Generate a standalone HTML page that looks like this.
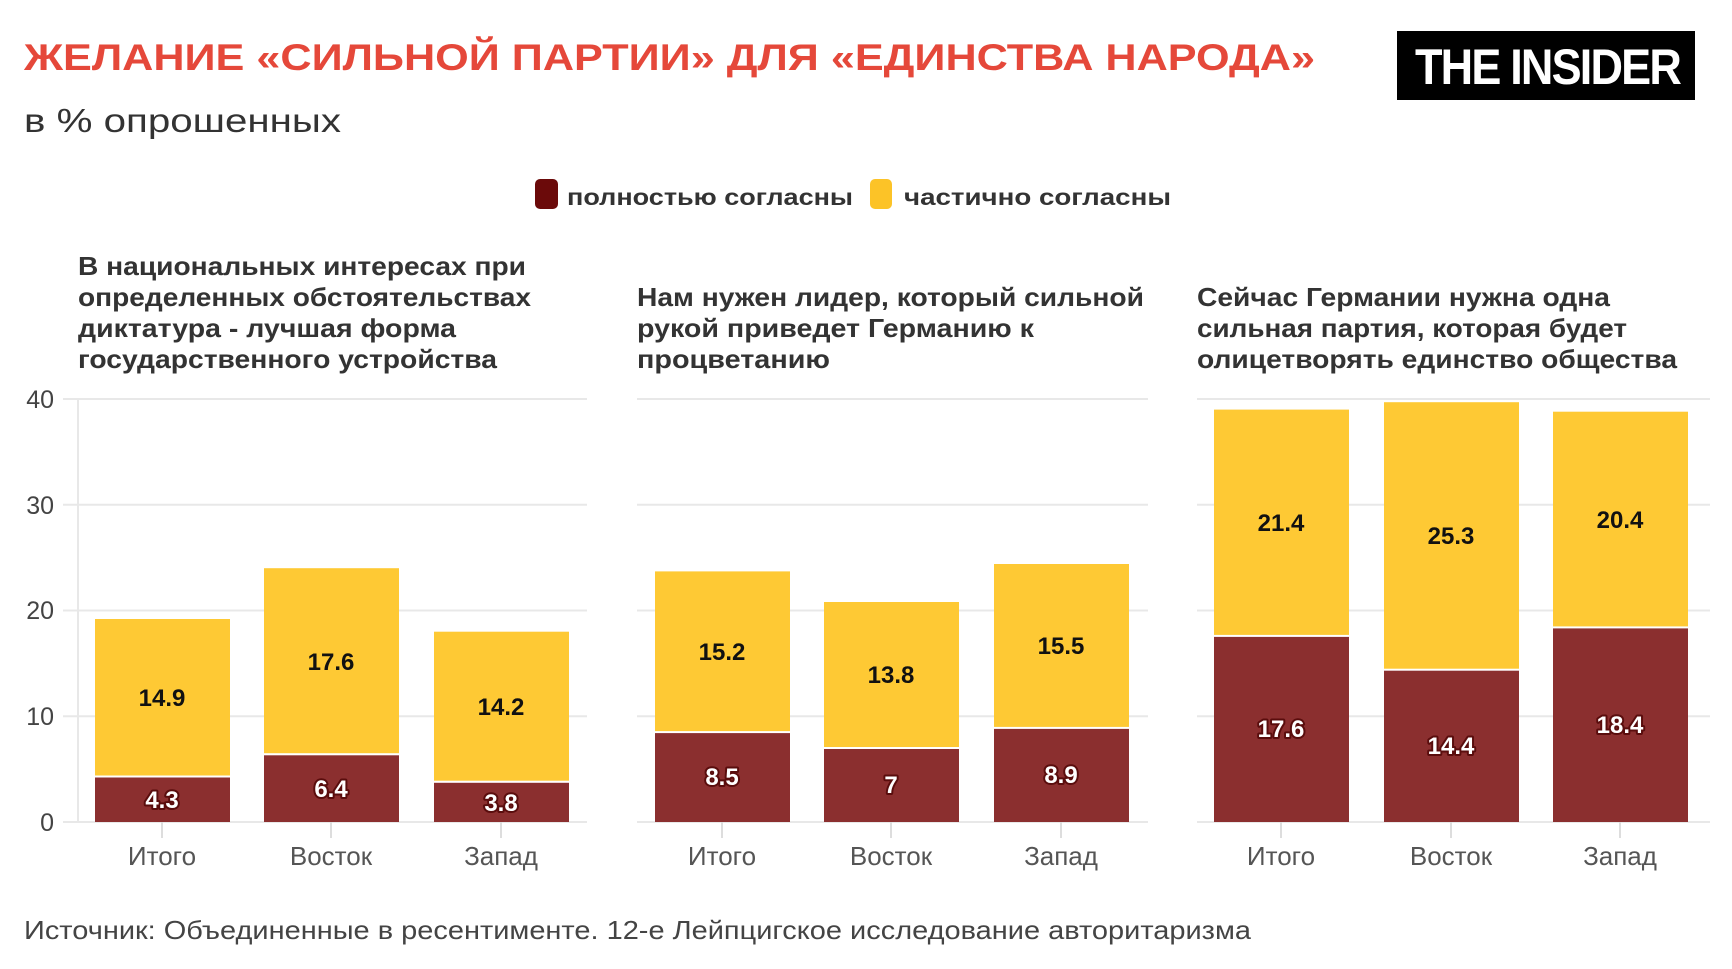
<!DOCTYPE html>
<html><head><meta charset="utf-8"><style>
html,body{margin:0;padding:0;background:#fff;}
svg{display:block;font-family:"Liberation Sans","DejaVu Sans",sans-serif;}
.pt{font-size:26px;font-weight:bold;fill:#333;}
.yl{font-size:25px;fill:#444;text-anchor:end;}
.xl{font-size:26px;fill:#555;text-anchor:middle;}
.vy{font-size:24px;font-weight:bold;fill:#111;text-anchor:middle;stroke:#fec934;stroke-width:5px;paint-order:stroke;stroke-linejoin:round;}
.vr{font-size:24px;font-weight:bold;fill:#fff;text-anchor:middle;stroke:#5a0d0d;stroke-width:4px;paint-order:stroke;stroke-linejoin:round;}
.g{stroke:#e8e8e8;stroke-width:2;}
.t{stroke:#ddd;stroke-width:2;}
</style></head><body>
<svg width="1732" height="969" viewBox="0 0 1732 969">
<text x="24" y="70" font-size="37" font-weight="bold" fill="#e5483a" textLength="1291" lengthAdjust="spacingAndGlyphs">ЖЕЛАНИЕ «СИЛЬНОЙ ПАРТИИ» ДЛЯ «ЕДИНСТВА НАРОДА»</text>
<text x="24" y="132" font-size="33" fill="#333" textLength="317" lengthAdjust="spacingAndGlyphs">в % опрошенных</text>
<rect x="1397" y="31" width="298" height="69" fill="#000"/>
<text x="1415" y="84" font-size="50" font-weight="bold" fill="#fff" textLength="265" lengthAdjust="spacingAndGlyphs" letter-spacing="-2">THE INSIDER</text>

<rect x="535" y="179" width="23" height="30" rx="5" fill="#6b0a0a"/>
<text x="567" y="205" font-size="23" font-weight="bold" fill="#333" textLength="286" lengthAdjust="spacingAndGlyphs">полностью согласны</text>
<rect x="870" y="179" width="22" height="30" rx="5" fill="#fcc327"/>
<text x="904" y="205" font-size="23" font-weight="bold" fill="#333" textLength="267" lengthAdjust="spacingAndGlyphs">частично согласны</text>

<text class="pt" x="78" y="275" textLength="448" lengthAdjust="spacingAndGlyphs">В национальных интересах при</text>
<text class="pt" x="78" y="306" textLength="453" lengthAdjust="spacingAndGlyphs">определенных обстоятельствах</text>
<text class="pt" x="78" y="337" textLength="378" lengthAdjust="spacingAndGlyphs">диктатура - лучшая форма</text>
<text class="pt" x="78" y="368" textLength="419" lengthAdjust="spacingAndGlyphs">государственного устройства</text>

<text class="pt" x="637" y="306" textLength="507" lengthAdjust="spacingAndGlyphs">Нам нужен лидер, который сильной</text>
<text class="pt" x="637" y="337" textLength="397" lengthAdjust="spacingAndGlyphs">рукой приведет Германию к</text>
<text class="pt" x="637" y="368" textLength="193" lengthAdjust="spacingAndGlyphs">процветанию</text>

<text class="pt" x="1197" y="306" textLength="413" lengthAdjust="spacingAndGlyphs">Сейчас Германии нужна одна</text>
<text class="pt" x="1197" y="337" textLength="430" lengthAdjust="spacingAndGlyphs">сильная партия, которая будет</text>
<text class="pt" x="1197" y="368" textLength="480" lengthAdjust="spacingAndGlyphs">олицетворять единство общества</text>

<g class="g">
<line x1="63" x2="587" y1="399" y2="399"/><line x1="63" x2="587" y1="504.75" y2="504.75"/><line x1="63" x2="587" y1="610.5" y2="610.5"/><line x1="63" x2="587" y1="716.25" y2="716.25"/><line x1="63" x2="587" y1="822" y2="822"/>
<line x1="637" x2="1148" y1="399" y2="399"/><line x1="637" x2="1148" y1="504.75" y2="504.75"/><line x1="637" x2="1148" y1="610.5" y2="610.5"/><line x1="637" x2="1148" y1="716.25" y2="716.25"/><line x1="637" x2="1148" y1="822" y2="822"/>
<line x1="1197" x2="1710" y1="399" y2="399"/><line x1="1197" x2="1710" y1="504.75" y2="504.75"/><line x1="1197" x2="1710" y1="610.5" y2="610.5"/><line x1="1197" x2="1710" y1="716.25" y2="716.25"/><line x1="1197" x2="1710" y1="822" y2="822"/>
<line x1="78" x2="78" y1="399" y2="822"/>
</g>
<text class="yl" x="54" y="408">40</text>
<text class="yl" x="54" y="514">30</text>
<text class="yl" x="54" y="619">20</text>
<text class="yl" x="54" y="725">10</text>
<text class="yl" x="54" y="831">0</text>

<g class="t">
<line x1="162" x2="162" y1="822" y2="838"/><line x1="331" x2="331" y1="822" y2="838"/><line x1="501" x2="501" y1="822" y2="838"/>
<line x1="722" x2="722" y1="822" y2="838"/><line x1="891" x2="891" y1="822" y2="838"/><line x1="1061" x2="1061" y1="822" y2="838"/>
<line x1="1281" x2="1281" y1="822" y2="838"/><line x1="1451" x2="1451" y1="822" y2="838"/><line x1="1620" x2="1620" y1="822" y2="838"/>
</g>

<rect x="95" y="619" width="135" height="156.5" fill="#fec934"/><rect x="95" y="777.5" width="135" height="44.5" fill="#8b2f2f"/>
<rect x="264" y="568.2" width="135" height="185" fill="#fec934"/><rect x="264" y="755.3" width="135" height="66.7" fill="#8b2f2f"/>
<rect x="434" y="631.7" width="135" height="149" fill="#fec934"/><rect x="434" y="782.8" width="135" height="39.2" fill="#8b2f2f"/>
<rect x="655" y="571.4" width="135" height="159.7" fill="#fec934"/><rect x="655" y="733.1" width="135" height="88.9" fill="#8b2f2f"/>
<rect x="824" y="602" width="135" height="145" fill="#fec934"/><rect x="824" y="749" width="135" height="73" fill="#8b2f2f"/>
<rect x="994" y="564" width="135" height="162.9" fill="#fec934"/><rect x="994" y="728.9" width="135" height="93.1" fill="#8b2f2f"/>
<rect x="1214" y="409.6" width="135" height="225.3" fill="#fec934"/><rect x="1214" y="636.9" width="135" height="185.1" fill="#8b2f2f"/>
<rect x="1384" y="402.2" width="135" height="266.5" fill="#fec934"/><rect x="1384" y="670.7" width="135" height="151.3" fill="#8b2f2f"/>
<rect x="1553" y="411.7" width="135" height="214.7" fill="#fec934"/><rect x="1553" y="628.4" width="135" height="193.6" fill="#8b2f2f"/>

<text class="vy" x="162" y="706">14.9</text><text class="vr" x="162" y="808">4.3</text>
<text class="vy" x="331" y="670">17.6</text><text class="vr" x="331" y="797">6.4</text>
<text class="vy" x="501" y="715">14.2</text><text class="vr" x="501" y="811">3.8</text>
<text class="vy" x="722" y="660">15.2</text><text class="vr" x="722" y="785">8.5</text>
<text class="vy" x="891" y="683">13.8</text><text class="vr" x="891" y="793">7</text>
<text class="vy" x="1061" y="654">15.5</text><text class="vr" x="1061" y="783">8.9</text>
<text class="vy" x="1281" y="531">21.4</text><text class="vr" x="1281" y="737">17.6</text>
<text class="vy" x="1451" y="544">25.3</text><text class="vr" x="1451" y="754">14.4</text>
<text class="vy" x="1620" y="528">20.4</text><text class="vr" x="1620" y="733">18.4</text>

<text class="xl" x="162" y="865">Итого</text><text class="xl" x="331" y="865">Восток</text><text class="xl" x="501" y="865">Запад</text>
<text class="xl" x="722" y="865">Итого</text><text class="xl" x="891" y="865">Восток</text><text class="xl" x="1061" y="865">Запад</text>
<text class="xl" x="1281" y="865">Итого</text><text class="xl" x="1451" y="865">Восток</text><text class="xl" x="1620" y="865">Запад</text>

<text x="24" y="939" font-size="26" fill="#444" textLength="1227" lengthAdjust="spacingAndGlyphs">Источник: Объединенные в ресентименте. 12-е Лейпцигское исследование авторитаризма</text>
</svg>
</body></html>
